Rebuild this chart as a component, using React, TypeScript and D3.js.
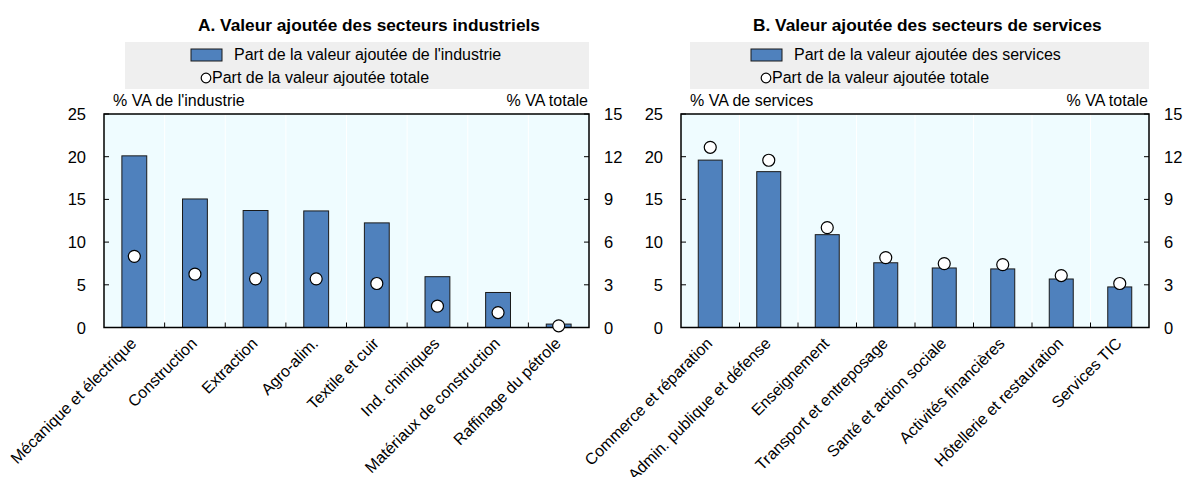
import React from "react";
import * as d3 from "d3";

// ---------- Data ----------
const industryCategories = [
  "Mécanique et électrique",
  "Construction",
  "Extraction",
  "Agro-alim.",
  "Textile et cuir",
  "Ind. chimiques",
  "Matériaux de construction",
  "Raffinage du pétrole",
];
const industryShare = [20.1, 15.05, 13.7, 13.65, 12.25, 5.95, 4.1, 0.4];
const industryTotal = [5.0, 3.75, 3.42, 3.42, 3.09, 1.5, 1.05, 0.12];

const serviceCategories = [
  "Commerce et réparation",
  "Admin. publique et défense",
  "Enseignement",
  "Transport et entreposage",
  "Santé et action sociale",
  "Activités financières",
  "Hôtellerie et restauration",
  "Services TIC",
];
const serviceShare = [19.6, 18.25, 10.87, 7.58, 6.97, 6.86, 5.68, 4.75];
const serviceTotal = [12.66, 11.75, 7.02, 4.91, 4.49, 4.42, 3.65, 3.09];

const leftTicks = [0, 5, 10, 15, 20, 25];
const rightTicks = [0, 3, 6, 9, 12, 15];

const FONT = "'Liberation Sans Narrow', 'Arial Narrow', Arial, sans-serif";
const BAR = "#4f81bd";
const BG = "#effcff";

type PanelProps = {
  title: string;
  titleX: number;
  categories: string[];
  share: number[];
  total: number[];
  barLabel: string;
  dotLabel: string;
  leftTitle: string;
  x0: number;
  x1: number;
  legendX0: number;
  legendX1: number;
  swatchX: number;
  dotX: number;
};

function Panel(p: PanelProps) {
  const top = 114;
  const bottom = 327.5;
  const xb = d3.scaleBand<string>().domain(p.categories).range([p.x0, p.x1]).paddingInner(0).paddingOuter(0);
  const yl = d3.scaleLinear().domain([0, 25]).range([bottom, top]);
  const yr = d3.scaleLinear().domain([0, 15]).range([bottom, top]);
  const bw = xb.bandwidth() * 0.41;
  const cx = (c: string) => (xb(c) as number) + xb.bandwidth() / 2;
  return (
    <g fontFamily={FONT}>
      <text x={p.titleX} y={31} textAnchor="start" fontWeight="bold" fontSize={17.3} fill="#000">
        {p.title}
      </text>
      <rect x={p.legendX0} y={42} width={p.legendX1 - p.legendX0} height={47} fill="#efefef" />
      <rect x={p.swatchX} y={49} width={31} height={12} fill={BAR} stroke="#1a1a1a" strokeWidth={1} />
      <text x={p.swatchX + 43} y={60} fontSize={16} fill="#000">
        {p.barLabel}
      </text>
      <circle cx={p.dotX} cy={78} r={4.8} fill="#fff" stroke="#000" strokeWidth={1.2} />
      <text x={p.dotX + 6} y={83} fontSize={16} fill="#000">
        {p.dotLabel}
      </text>
      <text x={p.x0 + 9} y={106} fontSize={16} fill="#000">
        {p.leftTitle}
      </text>
      <text x={p.x1 - 1} y={106} fontSize={16} textAnchor="end" fill="#000">
        % VA totale
      </text>
      <rect x={p.x0} y={top} width={p.x1 - p.x0} height={bottom - top} fill={BG} />
      {p.categories.slice(1).map((c) => (
        <line key={"g" + c} x1={xb(c)} x2={xb(c)} y1={top} y2={bottom} stroke="#fff" strokeWidth={1} />
      ))}
      {p.categories.map((c, i) => (
        <rect
          key={"b" + c}
          x={cx(c) - bw / 2}
          y={yl(p.share[i])}
          width={bw}
          height={bottom - yl(p.share[i])}
          fill={BAR}
          stroke="#1a1a1a"
          strokeWidth={1}
        />
      ))}
      {leftTicks.map((t) => (
        <g key={"l" + t}>
          <line x1={p.x0} x2={p.x0 + 5} y1={yl(t)} y2={yl(t)} stroke="#000" strokeWidth={1} />
          <text x={p.x0 - 18} y={yl(t) + 6} textAnchor="end" fontSize={16.5} fill="#000">
            {t}
          </text>
        </g>
      ))}
      {rightTicks.map((t) => (
        <g key={"r" + t}>
          <line x1={p.x1 - 5} x2={p.x1} y1={yr(t)} y2={yr(t)} stroke="#000" strokeWidth={1} />
          <text x={p.x1 + 15} y={yr(t) + 6} textAnchor="start" fontSize={16.5} fill="#000">
            {t}
          </text>
        </g>
      ))}
      {p.categories.slice(1).map((c) => (
        <line key={"t" + c} x1={xb(c)} x2={xb(c)} y1={bottom} y2={bottom - 5} stroke="#000" strokeWidth={1} />
      ))}
      <rect x={p.x0} y={top} width={p.x1 - p.x0} height={bottom - top} fill="none" stroke="#000" strokeWidth={1.5} />
      {p.categories.map((c, i) => (
        <circle key={"d" + c} cx={cx(c)} cy={yr(p.total[i])} r={6} fill="#fff" stroke="#000" strokeWidth={1.2} />
      ))}
      {p.categories.map((c) => (
        <text
          key={"x" + c}
          transform={`translate(${cx(c) + 3},${bottom + 17}) rotate(-45)`}
          textAnchor="end"
          fontSize={16}
          fill="#000"
        >
          {c}
        </text>
      ))}
    </g>
  );
}

export default function App() {
  return (
    <div style={{ position: "absolute", left: 0, top: 0 }}>
      <svg width={1185} height={477} style={{ display: "block", background: "#fff" }}>
        <Panel
          title="A. Valeur ajoutée des secteurs industriels"
          titleX={198}
          categories={industryCategories}
          share={industryShare}
          total={industryTotal}
          barLabel="Part de la valeur ajoutée de l'industrie"
          dotLabel="Part de la valeur ajoutée totale"
          leftTitle="% VA de l'industrie"
          x0={104}
          x1={589}
          legendX0={125}
          legendX1={589}
          swatchX={191}
          dotX={206}
        />
        <Panel
          title="B. Valeur ajoutée des secteurs de services"
          titleX={753}
          categories={serviceCategories}
          share={serviceShare}
          total={serviceTotal}
          barLabel="Part de la valeur ajoutée des services"
          dotLabel="Part de la valeur ajoutée totale"
          leftTitle="% VA de services"
          x0={681}
          x1={1149}
          legendX0={690}
          legendX1={1149}
          swatchX={751}
          dotX={766}
        />
      </svg>
    </div>
  );
}
